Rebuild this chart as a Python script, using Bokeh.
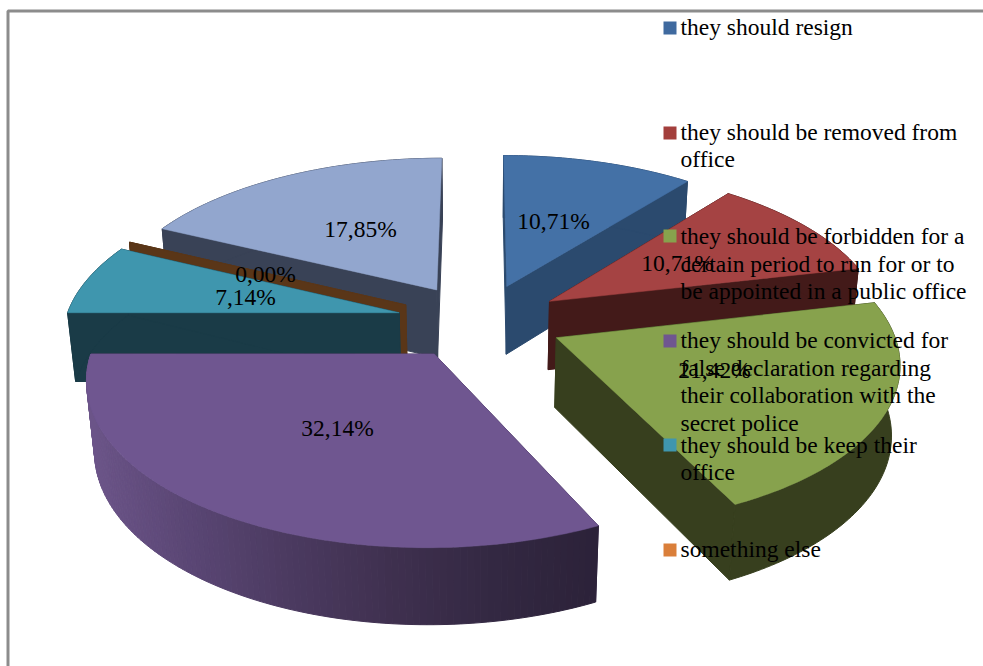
import numpy as np
from bokeh.core.properties import value
from bokeh.embed import file_html
from bokeh.models import Range1d
from bokeh.plotting import figure
from bokeh.resources import INLINE

# Survey shares, in percent, clockwise from twelve o'clock
categories = ["they should resign", "they should be removed from office",
              "they should be forbidden for a certain period to run for or to be appointed in a public office",
              "they should be convicted for false declaration regarding their collaboration with the secret police",
              "they should be keep their office", "something else", "other"]
shares = [10.71, 10.71, 21.42, 32.14, 7.14, 0.00, 17.85]
share_labels = ["10,71%", "10,71%", "21,42%", "32,14%", "7,14%", "0,00%", "17,85%"]

# Slice colours
top_colors = ["#4471A6", "#A54343", "#87A24D", "#6F5690", "#3F96AE", "#5A3618", "#92A6CE"]
wall_colors = ["#2B4A6E", "#431A19", "#373F1E", "#4A3A60", "#1A3B47", "#5A3618", "#394256"]
rim_ramp = ["#6C5589", "#5A4674", "#4B3A60", "#3F304F", "#332842", "#2C2239"]

# Legend: swatch colours, swatch tops, and wrapped text lines with their centre heights
legend_colors = ["#3F6A9F", "#A33F3C", "#87A24D", "#6F5690", "#3F96AE", "#DA7F3A"]
legend_swatch_y = [21, 126, 229, 334, 438, 543]
legend_lines = ["they should resign", "they should be removed from", "office",
                "they should be forbidden for a", "certain period to run for or to",
                "be appointed in a public office", "they should be convicted for",
                "false declaration regarding", "their collaboration with the",
                "secret police", "they should be keep their", "office", "something else"]
legend_line_y = [26, 131, 158, 235, 263, 290, 339, 367, 394, 422, 444, 471, 548]

# Centres of the percentage labels
label_x = [553, 677, 714, 337, 245, 265, 360]
label_y = [220, 262, 369, 427, 296, 273, 228]

# Projection of the tilted disc onto the page
CX, CY = 479.5, 320.6
SCALE_X, SCALE_Y = 334.0, 157.5
PERSPECTIVE = 0.136
EXPLODE_X, EXPLODE_Y = 0.25, 0.24
THICKNESS = 70.5
BOTTOM_SHRINK = 0.02


def project(ground_x, ground_y, lower=False):
    w = 1 + PERSPECTIVE * ground_y + (BOTTOM_SHRINK if lower else 0)
    sx = CX + SCALE_X * ground_x / w
    sy = CY - SCALE_Y * ground_y / w + (THICKNESS / w if lower else 0)
    return sx, sy


def rim_points(start, end, off_x, off_y, n):
    t = np.radians(np.linspace(start, end, n))
    return off_x + np.sin(t), off_y + np.cos(t)


def blend(ramp, f):
    pos = min(max(f, 0), 1) * (len(ramp) - 1)
    i = min(int(pos), len(ramp) - 2)
    a = [int(ramp[i][k:k + 2], 16) for k in (1, 3, 5)]
    b = [int(ramp[i + 1][k:k + 2], 16) for k in (1, 3, 5)]
    mix = [round(u + (v - u) * (pos - i)) for u, v in zip(a, b)]
    return "#%02X%02X%02X" % tuple(mix)


total = sum(shares)
edges = np.concatenate([[0], np.cumsum(shares) / total * 360])

p = figure(width=983, height=666, output_backend="svg", toolbar_location=None,
           x_range=Range1d(0, 983), y_range=Range1d(666, 0), min_border=0,
           background_fill_color="white", border_fill_color="white", outline_line_color=None)
p.axis.visible = False
p.grid.visible = False

# Chart frame: only the top and left edges fall on the page
p.line([7.5, 7.5, 983], [666, 10.5, 10.5], line_color="#8C8C8C", line_width=3)

# Back-to-front painting order
for i in [6, 5, 4, 0, 1, 2, 3]:
    a0, a1 = edges[i], edges[i + 1]
    mid = np.radians((a0 + a1) / 2)
    ox, oy = EXPLODE_X * np.sin(mid), EXPLODE_Y * np.cos(mid)
    n = max(int(a1 - a0) + 2, 2)
    gx, gy = rim_points(a0, a1, ox, oy, n)

    # Radial walls at both cut edges
    for k in (0, -1):
        xs = [project(ox, oy)[0], project(gx[k], gy[k])[0],
              project(gx[k], gy[k], True)[0], project(ox, oy, True)[0]]
        ys = [project(ox, oy)[1], project(gx[k], gy[k])[1],
              project(gx[k], gy[k], True)[1], project(ox, oy, True)[1]]
        p.patch(xs, ys, fill_color=wall_colors[i], line_color=wall_colors[i], line_width=1)

    # Outer rim, shaded along the arc on the large slice
    tx, ty = project(gx, gy)
    bx, by = project(gx, gy, True)
    if i == 3:
        for j in range(n - 1):
            col = blend(rim_ramp, (tx[j] - 85) / (598 - 85))
            p.patch([tx[j], tx[j + 1], bx[j + 1], bx[j]], [ty[j], ty[j + 1], by[j + 1], by[j]],
                    fill_color=col, line_color=col, line_width=1)
    else:
        p.patch(np.concatenate([tx, bx[::-1]]), np.concatenate([ty, by[::-1]]),
                fill_color=wall_colors[i], line_color=wall_colors[i], line_width=1)

    # Top face
    if shares[i] > 0:
        ax, ay = project(ox, oy)
        p.patch(np.concatenate([[ax], tx]), np.concatenate([[ay], ty]),
                fill_color=top_colors[i], line_color=top_colors[i], line_width=0.5)

TEXT_FONT = value("Liberation Serif")
p.text(label_x, label_y, text=share_labels, text_font=TEXT_FONT, text_font_size="23.5px",
       text_color="#000000", text_align="center", text_baseline="middle")

p.quad(left=[663] * 6, right=[676] * 6, top=legend_swatch_y,
       bottom=[y + 13 for y in legend_swatch_y], fill_color=legend_colors, line_color=None)
p.text([680] * len(legend_lines), legend_line_y, text=legend_lines, text_font=TEXT_FONT,
       text_font_size="23.5px", text_color="#000000", text_align="left", text_baseline="middle")

open("out.html", "w").write(file_html(p, INLINE))
